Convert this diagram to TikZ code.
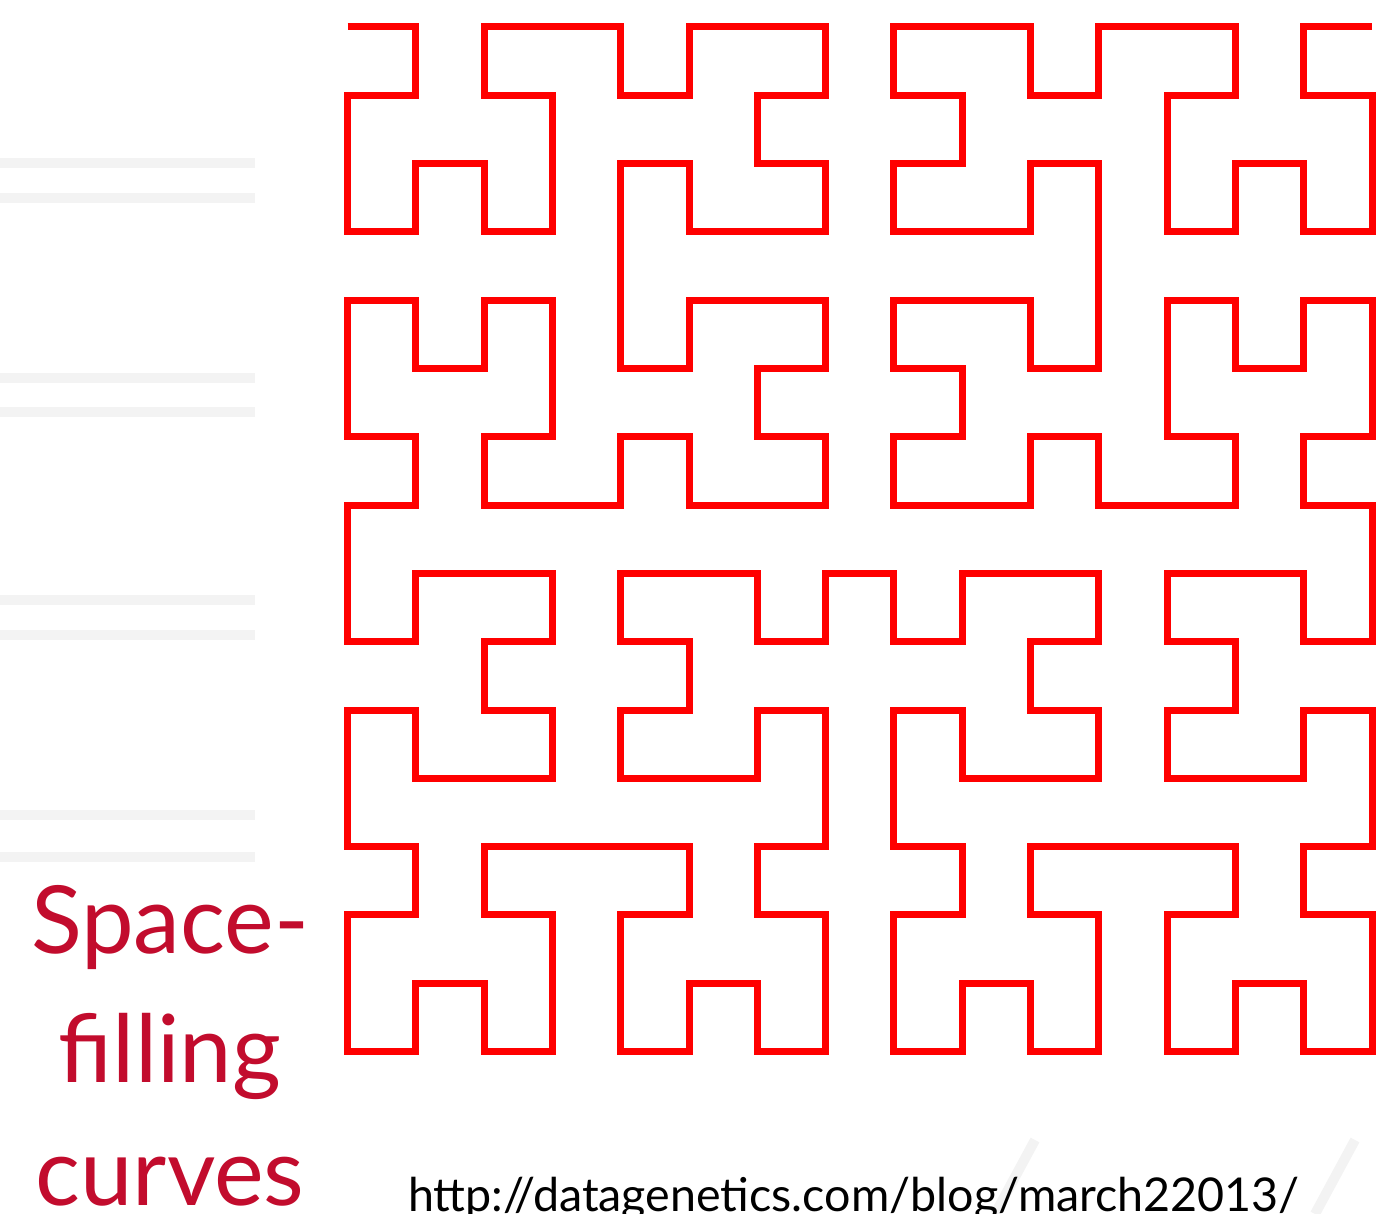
\documentclass[tikz,border=0pt]{standalone}
\usepackage{fontspec}
\setmainfont{Lato}
\usetikzlibrary{lindenmayersystems}

\definecolor{titlered}{RGB}{194,12,45}
\definecolor{faintgray}{RGB}{243,243,243}

\pgfdeclarelindenmayersystem{Hilbert}{
  \rule{A -> +BF-AFA-FB+}
  \rule{B -> -AF+BFB+FA-}
}

\begin{document}
\begin{tikzpicture}[
  x=0.5pt, y=-0.5pt,
  hilbert/.style={draw=red, line width=3.5pt,
    lindenmayer system={Hilbert, axiom=A, order=4, step=34.15pt, angle=-90}},
  title/.style={text=titlered, font=\fontsize{47}{56}\selectfont,
                anchor=base, inner sep=0pt},
  link/.style={font=\fontsize{23.3}{28}\selectfont, anchor=base, inner sep=0pt},
  stripe/.style={draw=faintgray, line width=5pt},
]
\useasboundingbox (0,0) rectangle (1378,1214);

% faint background stripes
\foreach \y in {163,198,378,412,600,635,815,857}
  \draw[stripe] (0,\y) -- (255,\y);
\draw[stripe] (1035,1140) -- (995,1214);
\draw[stripe] (1355,1140) -- (1315,1214);

% order 4 curve, starts top left
\coordinate (start) at (347.5,27);
\begin{scope}[shift={(start)}]
  \draw[hilbert] lindenmayer system;
\end{scope}

\node[title] (space) at (170,953) {Space-};
\node[title] (filling) at (170,1082) {filling};
\node[title] (curves) at (170,1205) {curves};

\node[link] (url) at (854,1211) {http://datagenetics.com/blog/march22013/};
\end{tikzpicture}
\end{document}
